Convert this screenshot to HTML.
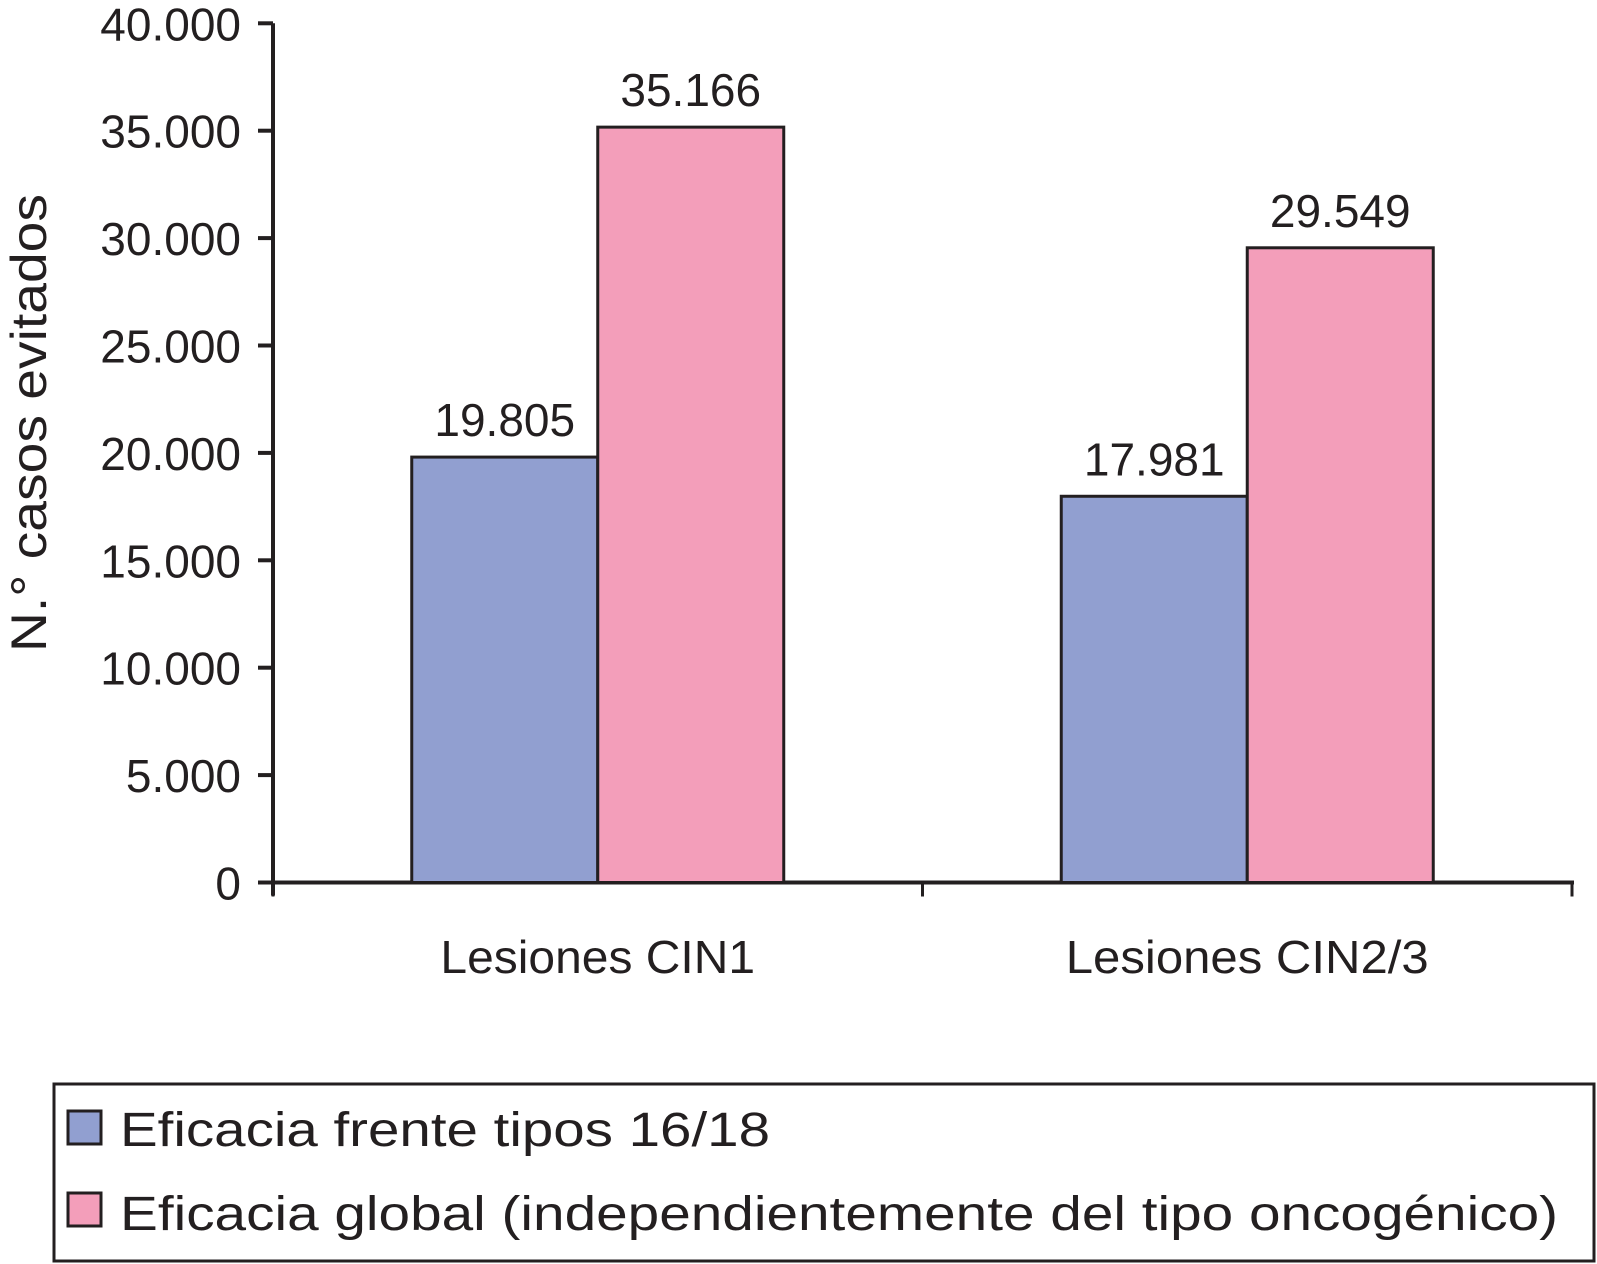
<!DOCTYPE html>
<html><head><meta charset="utf-8"><style>
html,body{margin:0;padding:0;background:#fff}
svg{display:block}
text{font-family:"Liberation Sans",sans-serif;fill:#231f20}
</style></head><body>
<svg id="chart" width="1597" height="1264" viewBox="0 0 1597 1264" xmlns="http://www.w3.org/2000/svg">
<g id="axes"></g><g id="bars"></g><g id="labels"></g>
<text transform="translate(46,423) rotate(-90)" text-anchor="middle" font-size="50" textLength="458" lengthAdjust="spacingAndGlyphs">N.° casos evitados</text>
<g>
<rect x="54" y="1084" width="1540" height="177" fill="#fff" stroke="#231f20" stroke-width="3"/>
<rect x="68" y="1111" width="33" height="33" fill="#919fd0" stroke="#231f20" stroke-width="3"/>
<text x="120" y="1146" font-size="48" textLength="650" lengthAdjust="spacingAndGlyphs">Eficacia frente tipos 16/18</text>
<rect x="68" y="1193" width="33" height="33" fill="#f39eba" stroke="#231f20" stroke-width="3"/>
<text x="120" y="1230" font-size="48" textLength="1438" lengthAdjust="spacingAndGlyphs">Eficacia global (independientemente del tipo oncogénico)</text>
</g>
</svg>
<script>
const categories = ["Lesiones CIN1", "Lesiones CIN2/3"];
const series1618 = [19805, 17981];
const seriesGlobal = [35166, 29549];
const valueLabels1618 = ["19.805", "17.981"];
const valueLabelsGlobal = ["35.166", "29.549"];
const yTicks = [0, 5000, 10000, 15000, 20000, 25000, 30000, 35000, 40000];
const yTickLabels = ["0", "5.000", "10.000", "15.000", "20.000", "25.000", "30.000", "35.000", "40.000"];

const NS = "http://www.w3.org/2000/svg";
const X0 = 273, X1 = 1572, Y0 = 882.5, Y1 = 23.3, YMAX = 40000;
const catW = (X1 - X0) / categories.length, barW = 186;
function yScale(v){ return Y0 - (v / YMAX) * (Y0 - Y1); }
function xCenter(i){ return X0 + catW * (i + 0.5); }
function mk(tag, attrs, parent){
  const e = document.createElementNS(NS, tag);
  for (const k in attrs) e.setAttribute(k, attrs[k]);
  parent.appendChild(e); return e;
}
const axes = document.getElementById('axes');
const bars = document.getElementById('bars');
const labels = document.getElementById('labels');

let yAxis = mk('line', {x1:X0, y1:Y1, x2:X0, y2:Y0+13, stroke:'#231f20', 'stroke-width':4}, axes);


yTicks.forEach((t, i) => {
  const y = yScale(t);
  const tk = mk('line', {x1:X0-15, y1:y, x2:X0, y2:y, stroke:'#231f20', 'stroke-width':4}, axes);
  
  
  const tl = mk('text', {x:241, y:y+17, 'text-anchor':'end', 'font-size':46}, axes);
  tl.textContent = yTickLabels[i];
  
  
});

for (let i = 0; i <= categories.length; i++) {
  const x = X0 + catW * i;
  const tk = mk('line', {x1:x, y1:Y0, x2:x, y2:Y0+14, stroke:'#231f20', 'stroke-width':3}, axes);
  
  
}

categories.forEach((c, i) => {
  const cx = xCenter(i);
  const b1 = mk('rect', {x:cx-barW, y:yScale(series1618[i]), width:barW, height:Y0-yScale(series1618[i]), fill:'#919fd0', stroke:'#231f20', 'stroke-width':3}, bars);
  
  
  const b2 = mk('rect', {x:cx, y:yScale(seriesGlobal[i]), width:barW, height:Y0-yScale(seriesGlobal[i]), fill:'#f39eba', stroke:'#231f20', 'stroke-width':3}, bars);
  
  
  const l1 = mk('text', {x:cx-barW/2, y:yScale(series1618[i])-21, 'text-anchor':'middle', 'font-size':46}, labels);
  l1.textContent = valueLabels1618[i];
  
  
  const l2 = mk('text', {x:cx+barW/2, y:yScale(seriesGlobal[i])-21, 'text-anchor':'middle', 'font-size':46}, labels);
  l2.textContent = valueLabelsGlobal[i];
  
  
  const cl = mk('text', {x:cx, y:973, 'text-anchor':'middle', 'font-size':46, textLength: c.length * 24.2, lengthAdjust:'spacingAndGlyphs'}, labels);
  cl.textContent = c;
  
  
});

let xAxis = mk('line', {x1:X0-15, y1:Y0, x2:X1+2, y2:Y0, stroke:'#231f20', 'stroke-width':4}, axes);


</script>
</body></html>
